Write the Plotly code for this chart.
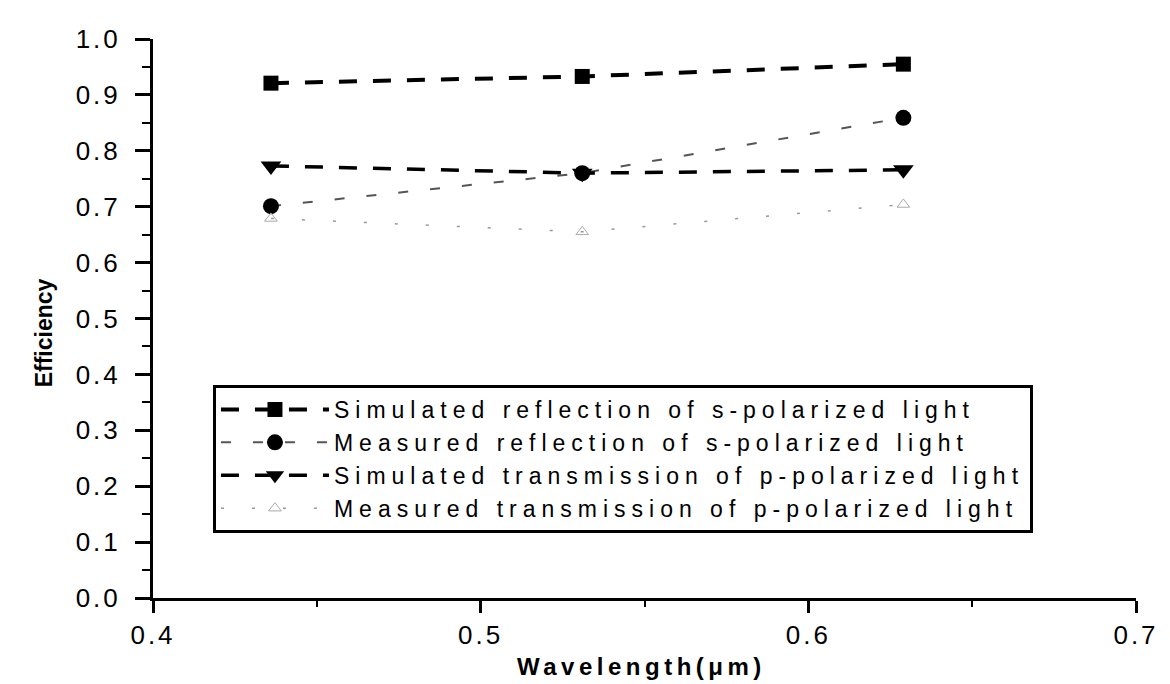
import plotly.graph_objects as go

wavelength = [0.436, 0.531, 0.629]
sim_reflection_s = [0.921, 0.933, 0.955]
meas_reflection_s = [0.701, 0.760, 0.859]
sim_transmission_p = [0.773, 0.760, 0.766]
meas_transmission_p = [0.679, 0.655, 0.704]

series_names = [
    "Simulated reflection of s-polarized light",
    "Measured reflection of s-polarized light",
    "Simulated transmission of p-polarized light",
    "Measured transmission of p-polarized light",
]

x_ticks = [0.4, 0.5, 0.6, 0.7]
y_ticks = [0.0, 0.1, 0.2, 0.3, 0.4, 0.5, 0.6, 0.7, 0.8, 0.9, 1.0]
x_title = "Wavelength(μm)"
y_title = "Efficiency"

FONT = "Liberation Sans, Arial, sans-serif"


def spaced(text, px, bold=False):
    inner = f"<b>{text}</b>" if bold else text
    return f'<span style="letter-spacing:{px}px">{inner}</span>'


fig = go.Figure()
fig.add_trace(go.Scatter(
    x=wavelength, y=sim_reflection_s, name=spaced(series_names[0], 6), mode="lines+markers",
    line=dict(color="black", width=4, dash="18px,16px"),
    marker=dict(symbol="square", size=15, color="black"),
))
fig.add_trace(go.Scatter(
    x=wavelength, y=meas_reflection_s, name=spaced(series_names[1], 6), mode="lines+markers",
    line=dict(color="#555555", width=2, dash="10px,22px"),
    marker=dict(symbol="circle", size=16, color="black"),
))
fig.add_trace(go.Scatter(
    x=wavelength, y=sim_transmission_p, name=spaced(series_names[2], 6), mode="lines+markers",
    line=dict(color="black", width=3.5, dash="18px,16px"),
    marker=dict(symbol="triangle-down", size=18, color="black"),
))
fig.add_trace(go.Scatter(
    x=wavelength, y=meas_transmission_p, name=spaced(series_names[3], 6), mode="lines+markers",
    line=dict(color="#999999", width=1.5, dash="3px,28px"),
    marker=dict(symbol="triangle-up", size=11, color="rgba(0,0,0,0)",
                line=dict(color="#aaaaaa", width=1)),
))

tick_font = dict(family=FONT, size=26, color="black")

fig.update_xaxes(
    range=[0.4, 0.7], tickvals=x_ticks, ticktext=[spaced(f"{v:.1f}", 3) for v in x_ticks],
    showline=True, linecolor="black", linewidth=3, mirror=False,
    ticks="outside", ticklen=12, tickwidth=3, tickcolor="black",
    showgrid=False, zeroline=False, tickfont=tick_font, automargin=False,
    minor=dict(ticks="outside", ticklen=6, tickwidth=2, tickcolor="black", dtick=0.05),
)
fig.update_yaxes(
    range=[0, 1.0], tickvals=y_ticks, ticktext=[spaced(f"{v:.1f}", 3) for v in y_ticks],
    showline=True, linecolor="black", linewidth=3, mirror=False,
    ticks="outside", ticklen=15, tickwidth=3, tickcolor="black",
    showgrid=False, zeroline=False, tickfont=tick_font, automargin=False,
    ticklabelstandoff=9,
    minor=dict(ticks="outside", ticklen=8, tickwidth=2, tickcolor="black", dtick=0.05),
)

fig.add_annotation(
    text=spaced(x_title, 4.5, bold=True), xref="paper", yref="paper",
    x=0.497, y=-0.123, xanchor="center", yanchor="middle", showarrow=False,
    font=dict(family=FONT, size=24, color="black"),
)
fig.add_annotation(
    text=f"<b>{y_title}</b>", xref="paper", yref="paper",
    x=-0.11, y=0.475, xanchor="center", yanchor="middle", showarrow=False,
    textangle=-90, font=dict(family=FONT, size=23, color="black"),
)

fig.update_layout(
    width=1170, height=684,
    margin=dict(l=145, r=42, t=31, b=94),
    paper_bgcolor="white", plot_bgcolor="white",
    font=dict(family=FONT, color="black"),
    showlegend=True,
    legend=dict(
        x=0.061, y=0.381, xanchor="left", yanchor="top",
        bordercolor="black", borderwidth=3, bgcolor="white",
        font=dict(family=FONT, size=23, color="black"),
        itemwidth=108, tracegroupgap=0,
    ),
)

fig.write_html("out.html")
